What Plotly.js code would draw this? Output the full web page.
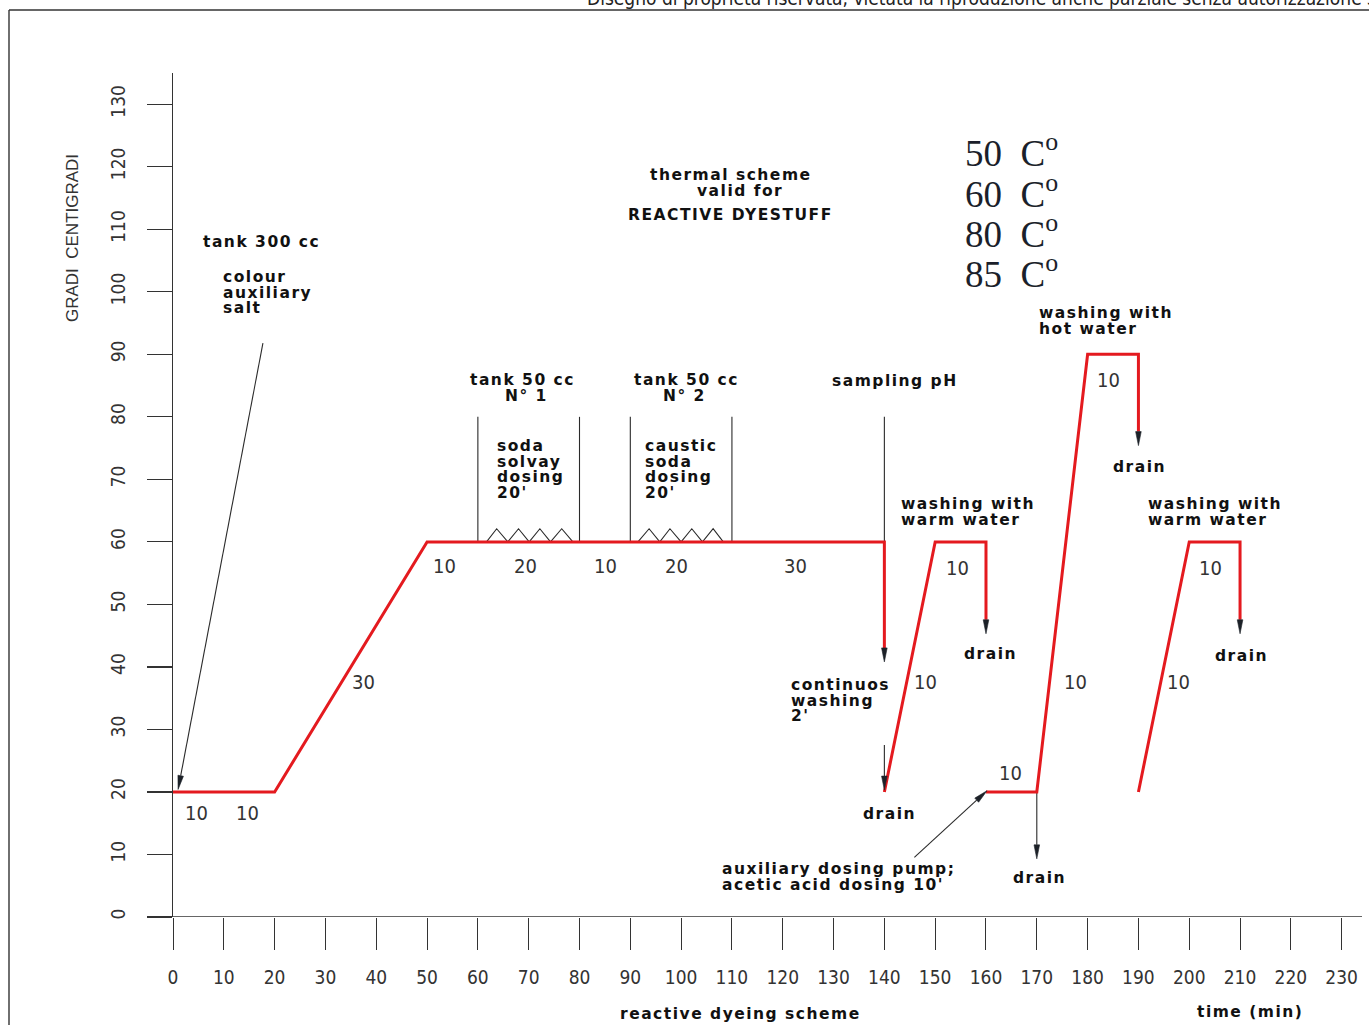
<!DOCTYPE html>
<html><head><meta charset="utf-8">
<script src="https://cdn.plot.ly/plotly-3.0.1.min.js"></script>
<style>html,body{margin:0;padding:0;background:#fff;overflow:hidden}#chart{width:1369px;height:1025px}</style>
</head><body><div id="chart"></div>
<script>
// ---------------- data ----------------
const xTicks = [0,10,20,30,40,50,60,70,80,90,100,110,120,130,140,150,160,170,180,190,200,210,220,230];
const yTicks = [0,10,20,30,40,50,60,70,80,90,100,110,120,130];

// red thermal profile, one array pair per section (last point of each = drain tip)
const dyeX   = [0,20,50,140,140];      const dyeY   = [20,20,60,60,40.8];
const warm1X = [140,150,160,160];      const warm1Y = [20,60,60,45.3];
const hotX   = [160,170,180,190,190];  const hotY   = [20,20,90,90,75.4];
const warm2X = [190,200,210,210];      const warm2Y = [20,60,60,45.3];

// dosing / sampling marker lines
const markerX = [60,80,90,110,140];
const markerTop = 80, markerBase = 60;

// dosing zig-zags
const zig1X = [61.7,63.7,65.9,68.0,70.1,72.2,74.3,76.5,78.7];
const zig2X = [91.5,93.7,95.8,97.8,100.0,102.1,104.2,106.3,108.3];
const zigY  = [60,62.1,60,62.1,60,62.1,60,62.1,60];

// black pointer arrows (tail -> tip)
const arrowFromX = [17.7,140,145.9,170];
const arrowFromY = [91.8,27.5,9.55,20];
const arrowToX   = [1.0,140,160.2,170];
const arrowToY   = [20.4,20.3,20.2,9.3];

// step durations (min)
const durText = ['10','10','30','10','20','10','20','30','10','10','10','10','10','10','10'];
const durX = [4.7,14.6,37.4,53.5,69.3,85.2,99.0,122.6,154.3,148.0,164.8,177.6,184.1,204.1,197.8];
const durY = [16.6,16.6,37.6,56.2,56.2,56.2,56.2,56.2,55.8,37.6,23.0,37.6,85.9,55.8,37.6];

// notes (multi-line blocks; x = left edge, y = centre of first line)
const noteText = ['tank 300 cc','colour<br>auxiliary<br>salt','thermal scheme','valid for','REACTIVE DYESTUFF',
  'tank 50 cc','N° 1','tank 50 cc','N° 2',"soda<br>solvay<br>dosing<br>20'","caustic<br>soda<br>dosing<br>20'",
  'sampling pH','washing with<br>warm water','drain',"continuos<br>washing<br>2'",'drain',
  "auxiliary dosing pump;<br>acetic acid dosing 10'",'drain','washing with<br>hot water','drain',
  'washing with<br>warm water','drain'];
const noteX = [5.5,9.45,93.5,102.8,89.2,
  58.1,65.0,90.4,96.1,63.4,92.5,
  129.3,142.9,155.3,121.3,135.4,
  107.7,165.0,170.1,184.6,
  191.5,204.7];
const noteY = [108.0,102.4,118.7,116.2,112.3,
  85.9,83.4,85.9,83.4,75.4,75.4,
  85.8,66.1,42.1,37.1,16.5,
  7.7,6.2,96.6,72.0,
  66.1,41.8];

// temperatures list
const tempValues = ['50','60','80','85'];
const tempY = [122.6,116.0,109.6,103.2];
const tempX = 155.5;

// ---------------- helpers ----------------
const X_RANGE = [0,234], Y_RANGE = [0,135];
const PLOT_W = 1189, PLOT_H = 844;
const SX = PLOT_W/(X_RANGE[1]-X_RANGE[0]), SY = PLOT_H/(Y_RANGE[1]-Y_RANGE[0]);
const HEAD_LEN = 14, HEAD_HW = 2.8;
const LINE_PITCH = 15.6;   // px between note lines
const TOP_OFFSET = 11;     // px from first-line centre to annotation top

function head(fx, fy, tx, ty){
  const dx=(tx-fx)*SX, dy=(ty-fy)*SY, L=Math.hypot(dx,dy);
  const ux=dx/L, uy=dy/L, px=-uy, py=ux;
  const bx=tx*SX-ux*HEAD_LEN, by=ty*SY-uy*HEAD_LEN;
  return {xs:[tx,(bx+px*HEAD_HW)/SX,(bx-px*HEAD_HW)/SX,tx],
          ys:[ty,(by+py*HEAD_HW)/SY,(by-py*HEAD_HW)/SY,ty],
          bx:bx/SX, by:by/SY};
}

const headX=[], headY=[];
const redX=[], redY=[];
[[dyeX,dyeY],[warm1X,warm1Y],[hotX,hotY],[warm2X,warm2Y]].forEach(([xs,ys])=>{
  const n=xs.length;
  const h=head(xs[n-2],ys[n-2],xs[n-1],ys[n-1]);
  headX.push(...h.xs,null); headY.push(...h.ys,null);
  redX.push(...xs.slice(0,n-1),h.bx,null);
  redY.push(...ys.slice(0,n-1),h.by,null);
});

const blkX=[], blkY=[];
markerX.forEach(x=>{blkX.push(x,x,null); blkY.push(markerTop,markerBase,null);});
blkX.push(...zig1X,null,...zig2X,null); blkY.push(...zigY,null,...zigY,null);
arrowFromX.forEach((fx,i)=>{
  const h=head(fx,arrowFromY[i],arrowToX[i],arrowToY[i]);
  blkX.push(fx,h.bx,null); blkY.push(arrowFromY[i],h.by,null);
  headX.push(...h.xs,null); headY.push(...h.ys,null);
});

// ---------------- traces ----------------
const traces = [
  {x:blkX,y:blkY,mode:'lines',line:{color:'#2a2a2a',width:1.1},hoverinfo:'skip',showlegend:false},
  {x:redX,y:redY,mode:'lines',line:{color:'#e41a1f',width:3},hoverinfo:'skip',showlegend:false},
  {x:headX,y:headY,mode:'lines',fill:'toself',fillcolor:'#1c2128',line:{color:'#1c2128',width:0.6},hoverinfo:'skip',showlegend:false}
];

const NARROW = '"Liberation Sans Narrow","Arial Narrow","DejaVu Sans Condensed",sans-serif';
const BOLD = {family:'"DejaVu Sans",Verdana,sans-serif',size:15.5,color:'#111',weight:'bold'};

const ann = [];
durText.forEach((t,i)=>ann.push({x:durX[i],y:durY[i],xref:'x',yref:'y',text:t,showarrow:false,
  xanchor:'center',yanchor:'middle',font:{family:NARROW,size:20,color:'#333'}}));
noteText.forEach((t,i)=>ann.push({x:noteX[i],y:noteY[i]+TOP_OFFSET/SY,xref:'x',yref:'y',text:t,showarrow:false,
  xanchor:'left',yanchor:'top',align:'left',font:BOLD}));
tempValues.forEach((t,i)=>ann.push({x:tempX,y:tempY[i],xref:'x',yref:'y',
  text:t+'\u00A0\u00A0C<sup>o</sup>',showarrow:false,xanchor:'left',yanchor:'middle',align:'left',
  font:{family:'"Liberation Serif","DejaVu Serif",serif',size:37,color:'#1b1f2b'}}));
ann.push({x:(72-173)/PLOT_W,y:108.6,xref:'paper',yref:'y',text:'GRADI  CENTIGRADI',textangle:-90,
  showarrow:false,xanchor:'center',yanchor:'middle',font:{family:'"Liberation Sans",Arial,sans-serif',size:17,color:'#333'}});
ann.push({x:(618-173)/PLOT_W,y:(917-1014)/PLOT_H,xref:'paper',yref:'paper',text:'reactive dyeing scheme',
  showarrow:false,xanchor:'left',yanchor:'middle',align:'left',font:BOLD});
ann.push({x:(1195-173)/PLOT_W,y:(917-1012)/PLOT_H,xref:'paper',yref:'paper',text:'time (min)',
  showarrow:false,xanchor:'left',yanchor:'middle',align:'left',font:BOLD});
ann.push({x:(585-173)/PLOT_W,y:(917+2)/PLOT_H,xref:'paper',yref:'paper',
  text:'Disegno di proprietà riservata, vietata la riproduzione anche parziale senza autorizzazione scritta',
  showarrow:false,xanchor:'left',yanchor:'middle',align:'left',font:{family:NARROW,size:19,color:'#222'}});

const shapes = [
  {type:'line',xref:'paper',yref:'y',x0:-25/PLOT_W,x1:1,y0:0,y1:0,line:{color:'#333',width:1.4}},
  {type:'line',xref:'paper',yref:'paper',x0:(9-173)/PLOT_W,x1:(9-173)/PLOT_W,y0:(917-10)/PLOT_H,y1:(917-1030)/PLOT_H,line:{color:'#333',width:1.4}},
  {type:'line',xref:'paper',yref:'paper',x0:(9-173)/PLOT_W,x1:(1372-173)/PLOT_W,y0:(917-10)/PLOT_H,y1:(917-10)/PLOT_H,line:{color:'#333',width:1.6}}
];

const layout = {
  width:1369,height:1025,autosize:false,
  margin:{l:173,r:7,t:73,b:108,pad:0},
  paper_bgcolor:'#fff',plot_bgcolor:'#fff',showlegend:false,
  xaxis:{range:X_RANGE,tickvals:xTicks,ticktext:xTicks.map(String),ticks:'outside',ticklen:32,tickwidth:1,
    tickcolor:'#333',showline:false,showgrid:false,zeroline:false,ticklabelstandoff:11,
    tickfont:{family:NARROW,size:19,color:'#333'},fixedrange:true},
  yaxis:{range:Y_RANGE,tickvals:yTicks,ticktext:yTicks.map(String),ticks:'outside',ticklen:25,tickwidth:1.2,
    tickcolor:'#333',showline:true,linecolor:'#333',linewidth:1.4,showgrid:false,zeroline:false,
    tickangle:-90,ticklabelstandoff:14,tickfont:{family:NARROW,size:19,color:'#333'},fixedrange:true},
  annotations:ann,shapes:shapes
};

Plotly.newPlot('chart',traces,layout,{displayModeBar:false,staticPlot:true}).then(()=>{
  document.querySelectorAll('#chart .annotation-text').forEach(el=>{
    const fw=getComputedStyle(el).fontWeight;
    if(fw==='700'||fw==='bold'){
      el.style.letterSpacing='1.5px';
      el.querySelectorAll('tspan.line').forEach(ts=>{
        const d=parseFloat(ts.getAttribute('dy')||'0');
        if(d) ts.setAttribute('dy',(Math.round(d/1.3)*LINE_PITCH)+'px');
      });
    }
  });
});
</script></body></html>
